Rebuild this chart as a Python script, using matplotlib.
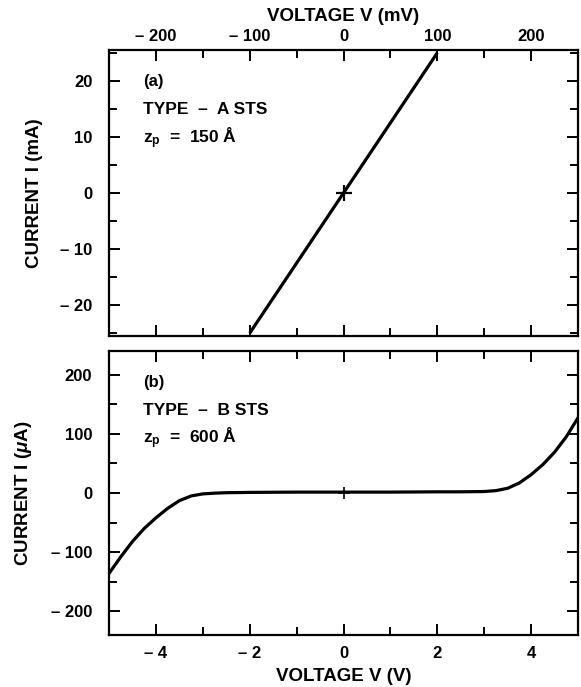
import matplotlib
matplotlib.use("Agg")
import matplotlib.pyplot as plt
import numpy as np
from matplotlib.ticker import MultipleLocator, FuncFormatter

plt.rcParams['font.family'] = ['Liberation Sans', 'DejaVu Sans']
plt.rcParams['font.weight'] = 'bold'
plt.rcParams['mathtext.fontset'] = 'custom'
plt.rcParams['mathtext.bf'] = 'Liberation Sans:bold'
plt.rcParams['mathtext.rm'] = 'Liberation Sans:bold'
plt.rcParams['mathtext.it'] = 'Liberation Sans:bold:italic'

# Panel (a): type-A STS, ohmic line
va_mV = [-100, 100]
ia_mA = [-25, 25]

# Panel (b): type-B STS, tunneling-like curve
vb_V = [-5.0, -4.75, -4.5, -4.25, -4.0, -3.75, -3.5, -3.25, -3.0, -2.75, -2.5, -2.0, -1.0,
        0.0, 1.0, 2.0, 2.5, 3.0, 3.25, 3.5, 3.75, 4.0, 4.25, 4.5, 4.75, 5.0]
ib_uA = [-136, -108, -82, -60, -42, -26, -13, -5, -1.5, -0.3, 0.5, 1, 1.5,
         1.5, 1.5, 2, 2, 2.5, 4, 8, 17, 31, 48, 69, 95, 127]

top_ticks = [-200, -100, 0, 100, 200]
bot_ticks = [-4, -2, 0, 2, 4]
ya_ticks = [-20, -10, 0, 10, 20]
yb_ticks = [-200, -100, 0, 100, 200]

W, H = 581, 687
fig = plt.figure(figsize=(W / 100, H / 100), dpi=100)

def fpos(l, t, r, b):
    return [l / W, 1 - b / H, (r - l) / W, (b - t) / H]

ax1 = fig.add_axes(fpos(109, 50, 578, 336))
ax2 = fig.add_axes(fpos(109, 351, 578, 635))

def fmt(v, pos):
    if v < 0:
        return "\u2013 %g" % abs(v)
    return "%g" % v

for ax in (ax1, ax2):
    for s in ax.spines.values():
        s.set_linewidth(1.6)
    ax.tick_params(which='both', direction='in', top=True, bottom=True, left=True,
                   right=True, width=1.4, labelsize=12)
    ax.tick_params(which='major', length=8)
    ax.tick_params(which='minor', length=5.5)
    ax.xaxis.set_major_formatter(FuncFormatter(fmt))
    ax.yaxis.set_major_formatter(FuncFormatter(fmt))
    ax.tick_params(axis='y', pad=12)
    ax.tick_params(axis='x', pad=8)

LAB = 13.5

# Panel (a)
ax1.plot(va_mV, ia_mA, color='black', lw=2.3, solid_capstyle='butt')
ax1.plot([0], [0], marker='+', color='black', ms=11, mew=1.6)
ax1.set_xlim(-250, 250)
ax1.set_ylim(-25.5, 25.5)
ax1.set_xticks(top_ticks)
ax1.xaxis.set_minor_locator(MultipleLocator(50))
ax1.set_yticks(ya_ticks)
ax1.yaxis.set_minor_locator(MultipleLocator(5))
ax1.tick_params(axis='x', labelbottom=False, labeltop=True, pad=4)
ax1.xaxis.set_label_position('top')
ax1.set_xlabel('VOLTAGE V (mV)', fontsize=LAB, fontweight='bold', labelpad=6)
ax1.set_ylabel('CURRENT I (mA)', fontsize=LAB, fontweight='bold', labelpad=12)
ax1.text(0.072, 0.875, '(a)', transform=ax1.transAxes, fontsize=12, fontweight='bold')
ax1.text(0.072, 0.775, 'TYPE  \u2013  A STS', transform=ax1.transAxes, fontsize=12.5, fontweight='bold')
ax1.text(0.072, 0.675, r'$\mathbf{z_p}$  =  150 Å', transform=ax1.transAxes, fontsize=12.5, fontweight='bold')

# Panel (b)
ax2.plot(vb_V, ib_uA, color='black', lw=2.3)
ax2.plot([0], [0], marker='+', color='black', ms=9, mew=1.2)
ax2.set_xlim(-5, 5)
ax2.set_ylim(-240, 240)
ax2.set_xticks(bot_ticks)
ax2.xaxis.set_minor_locator(MultipleLocator(1))
ax2.set_yticks(yb_ticks)
ax2.yaxis.set_minor_locator(MultipleLocator(50))
ax2.set_xlabel('VOLTAGE V (V)', fontsize=LAB, fontweight='bold', labelpad=5)
ax2.set_ylabel(r'CURRENT I ($\mu$A)', fontsize=LAB, fontweight='bold', labelpad=12)
ax2.text(0.072, 0.875, '(b)', transform=ax2.transAxes, fontsize=12, fontweight='bold')
ax2.text(0.072, 0.775, 'TYPE  \u2013  B STS', transform=ax2.transAxes, fontsize=12.5, fontweight='bold')
ax2.text(0.072, 0.675, r'$\mathbf{z_p}$  =  600 Å', transform=ax2.transAxes, fontsize=12.5, fontweight='bold')

fig.savefig('out.png', dpi=100)
